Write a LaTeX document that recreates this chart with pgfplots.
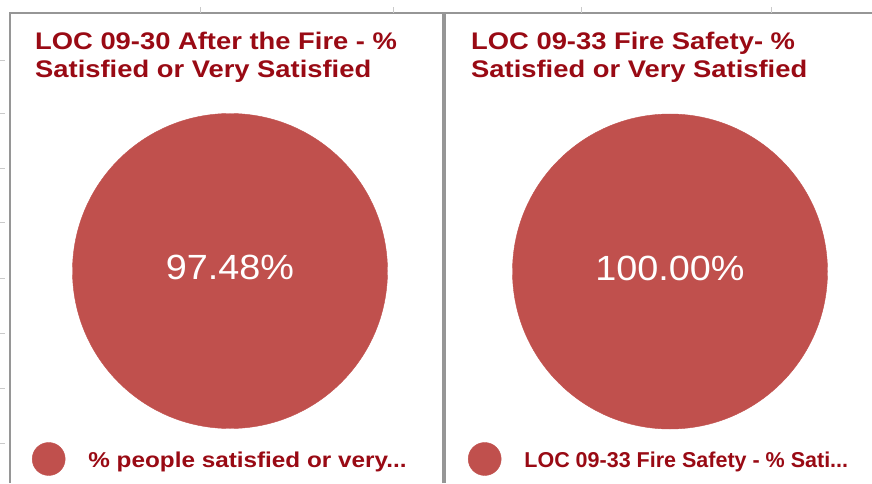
\documentclass[border=0pt]{standalone}
\usepackage{fontspec}
\setmainfont{Liberation Sans}
\newfontfamily\titlefont[FakeStretch=1.14]{Liberation Sans}
\newfontfamily\pctfont[FakeStretch=1.08]{Liberation Sans}
\newfontfamily\legfontwide[FakeStretch=1.13]{Liberation Sans}
\usepackage{pgfplots}
\pgfplotsset{compat=1.18}
\definecolor{piecol}{RGB}{192,80,77}
\definecolor{titlecol}{RGB}{153,10,20}
\definecolor{bordercol}{RGB}{150,150,150}
\pgfplotsset{panel/.style={hide axis, scale only axis, clip=false,
  ymin=0, ymax=470, height=470pt, anchor=south west,
  legend style={draw=none, fill=none, inner sep=0pt, outer sep=0pt, anchor=west,
    nodes={inner sep=0pt, outer sep=0pt}, column sep=23pt,
    font=\bfseries\fontsize{21.5}{24}\selectfont, text=titlecol},
  legend image code/.code={\fill[piecol] (0pt,1.5pt) circle (16.5pt);},
  pie/.style={only marks, mark=*, mark size=157.5pt, color=piecol,
    mark options={draw=none, fill=piecol},
    point meta=explicit symbolic, nodes near coords,
    nodes near coords style={anchor=center, yshift=3.5pt, text=white,
      font=\pctfont\fontsize{35}{40}\selectfont}},
}}
\begin{document}
\begin{tikzpicture}[x=1pt,y=1pt]
\useasboundingbox (0,0) rectangle (872,483);
% frame
\draw[bordercol, line width=1.5pt] (10,0) -- (10,470) -- (872,470);
\draw[bordercol, line width=4pt] (444,0) -- (444,470);
\foreach \yy in {423,370,315,261,205,150,95,40} {\draw[bordercol!50, line width=0.8pt] (0,\yy) -- (5,\yy);}
\foreach \xx in {200,393,581,771} {\draw[bordercol!50, line width=0.8pt] (\xx,470) -- (\xx,476);}
% titles
\begin{scope}[every node/.style={anchor=base west, inner sep=0pt, text=titlecol, font=\titlefont\bfseries\fontsize{24}{28}\selectfont}]
\node at (35,433) {LOC 09-30 After the Fire - \%};
\node at (35,405) {Satisfied or Very Satisfied};
\node at (471,433) {LOC 09-33 Fire Safety- \%};
\node at (471,405) {Satisfied or Very Satisfied};
\end{scope}
% left panel
\begin{axis}[panel, at={(10pt,0pt)}, xmin=10, xmax=442, width=432pt,
  legend style={at={(0.0509,0.0511)}}]
\addplot[pie] coordinates {(230,212) [97.48\%]};
\addlegendentry{\legfontwide\bfseries\% people satisfied or very...}
\end{axis}
% right panel
\begin{axis}[panel, at={(446pt,0pt)}, xmin=446, xmax=872, width=426pt,
  legend style={at={(0.0516,0.0511)}}]
\addplot[pie] coordinates {(670,211.5) [100.00\%]};
\addlegendentry{LOC 09-33 Fire Safety - \% Sati...}
\end{axis}
\end{tikzpicture}
\end{document}
